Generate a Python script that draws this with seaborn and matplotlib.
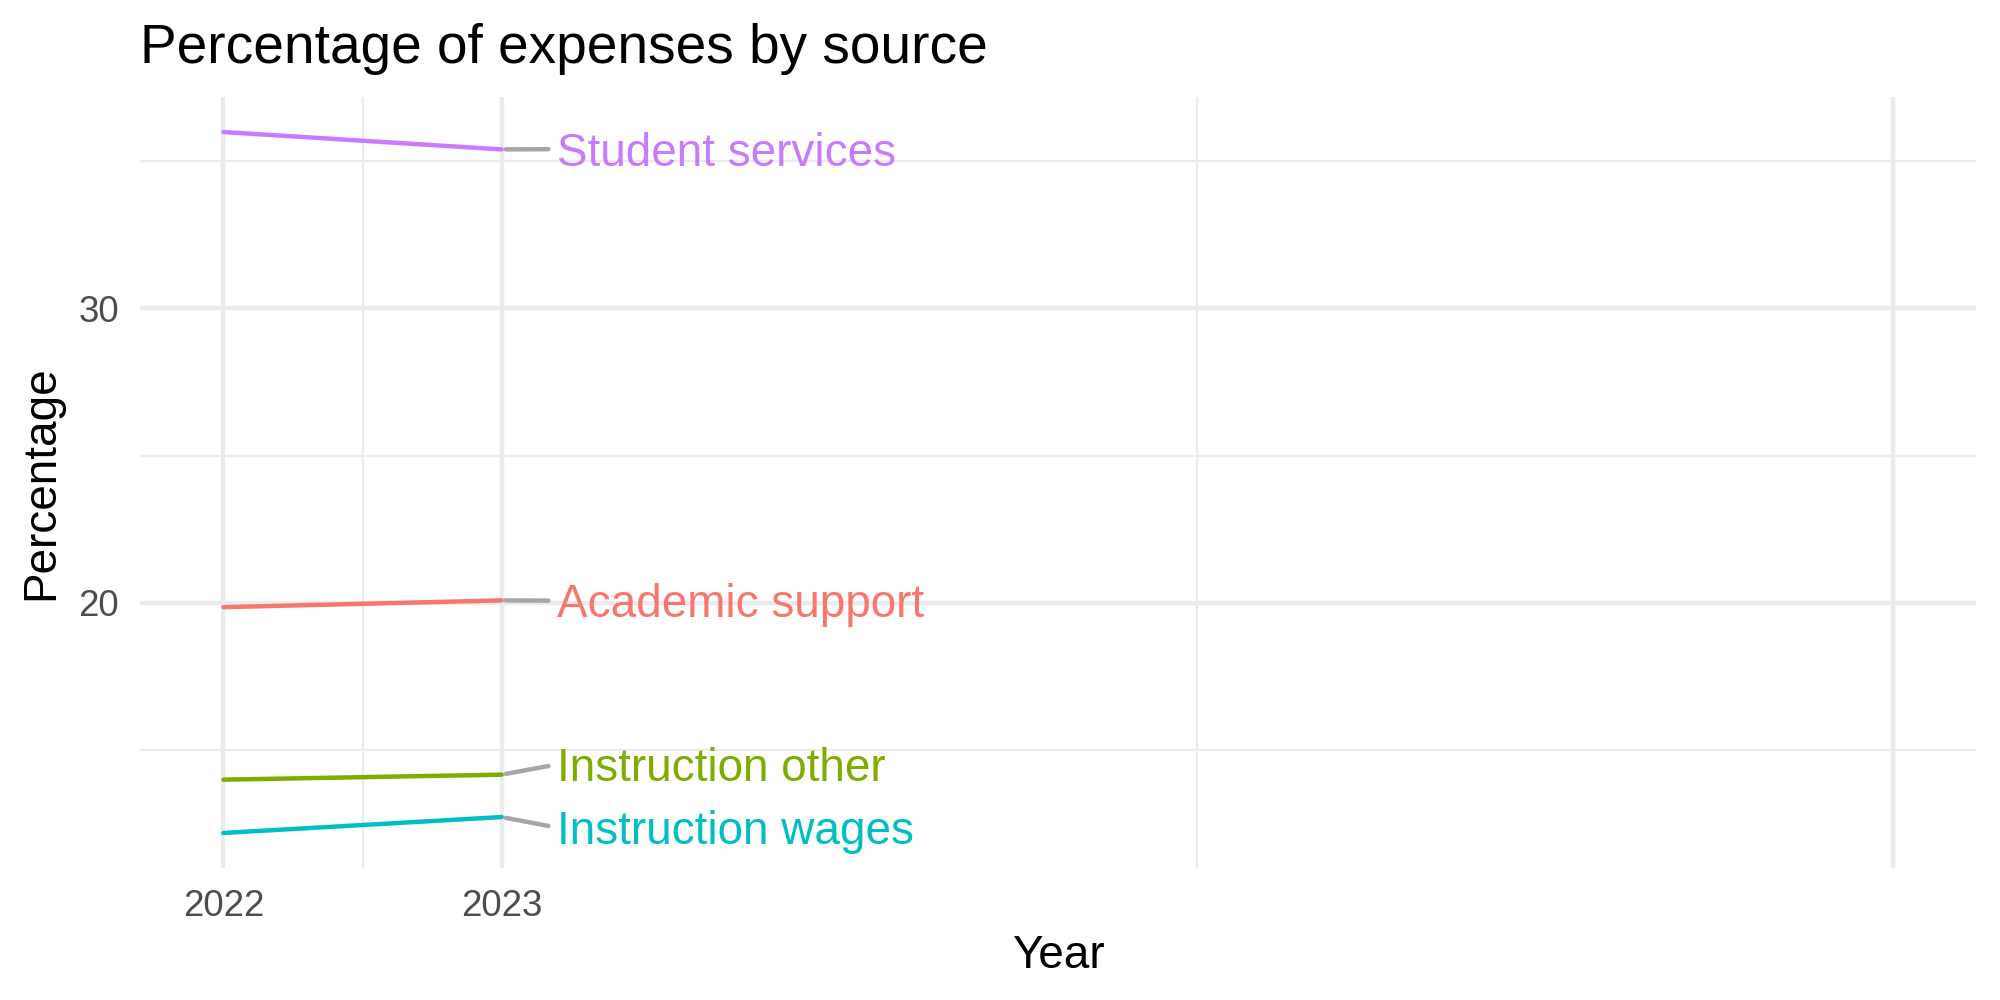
import matplotlib
matplotlib.use("Agg")
import matplotlib.pyplot as plt
import seaborn as sns
import pandas as pd

# ---- data ----
years = [2022, 2023]
sources = ["Academic support", "Instruction other", "Instruction wages", "Student services"]
academic_support = [19.85, 20.08]
instruction_other = [13.99, 14.16]
instruction_wages = [12.18, 12.72]
student_services = [35.99, 35.40]
palette = ["#F8766D", "#7CAE00", "#00BFC4", "#C77CFF"]
# repelled label positions (x, y of label centre)
label_x = 2023.2
label_y = [19.92, 14.36, 12.21, 35.26]
x_major = [2022, 2023, 2028]
x_major_labels = ["2022", "2023", ""]
x_minor = [2022.5, 2025.5]
y_major = [20, 30]
y_minor = [15, 25, 35]

values = [academic_support, instruction_other, instruction_wages, student_services]
df = pd.DataFrame(
    [(y, s, v) for s, vals in zip(sources, values) for y, v in zip(years, vals)],
    columns=["Year", "Source", "Percentage"],
)

sns.set_theme(style="white")
plt.rcParams["font.family"] = ["Liberation Sans", "DejaVu Sans"]

fig = plt.figure(figsize=(2000 / 300, 1000 / 300), dpi=300)
ax = fig.add_axes([140 / 2000, 1 - 868 / 1000, (1976 - 140) / 2000, (868 - 97) / 1000])

sns.lineplot(data=df, x="Year", y="Percentage", hue="Source", hue_order=sources,
             palette=palette, linewidth=1.07, legend=False, ax=ax)

for s, vals, ly, c in zip(sources, values, label_y, palette):
    ax.annotate(s, xy=(years[-1], vals[-1]), xytext=(label_x, ly),
                textcoords="data", ha="left", va="center", fontsize=11, color=c,
                arrowprops=dict(arrowstyle="-", color="#A6A6A6", lw=1.07,
                                shrinkA=0, shrinkB=1.0, relpos=(0, 0.6)))

# scales
allv = [v for vals in values for v in vals]
lo, hi = min(allv), max(allv)
pad = 0.05 * (hi - lo)
ax.set_ylim(lo - pad, hi + pad)
ax.set_xlim(2021.7, 2028.3)

ax.set_xticks(x_major)
ax.set_xticklabels(x_major_labels)
ax.set_xticks(x_minor, minor=True)
ax.set_yticks(y_major)
ax.set_yticklabels([str(v) for v in y_major])
ax.set_yticks(y_minor, minor=True)

ax.grid(which="major", color="#EBEBEB", linewidth=1.07)
ax.grid(which="minor", color="#EBEBEB", linewidth=0.53)
ax.set_axisbelow(True)
for sp in ax.spines.values():
    sp.set_visible(False)
ax.tick_params(which="both", length=0)
ax.tick_params(axis="both", which="major", labelsize=8.8, labelcolor="#4D4D4D", pad=5)

ax.set_xlabel("Year", fontsize=11, color="black", labelpad=2.5)
ax.set_ylabel("Percentage", fontsize=11, color="black", labelpad=3.7)

fig.text(140 / 2000, 1 - 63 / 1000, "Percentage of expenses by source",
         fontsize=13.2, color="black", ha="left", va="baseline")

fig.savefig("out.png", dpi=300, facecolor="white")
